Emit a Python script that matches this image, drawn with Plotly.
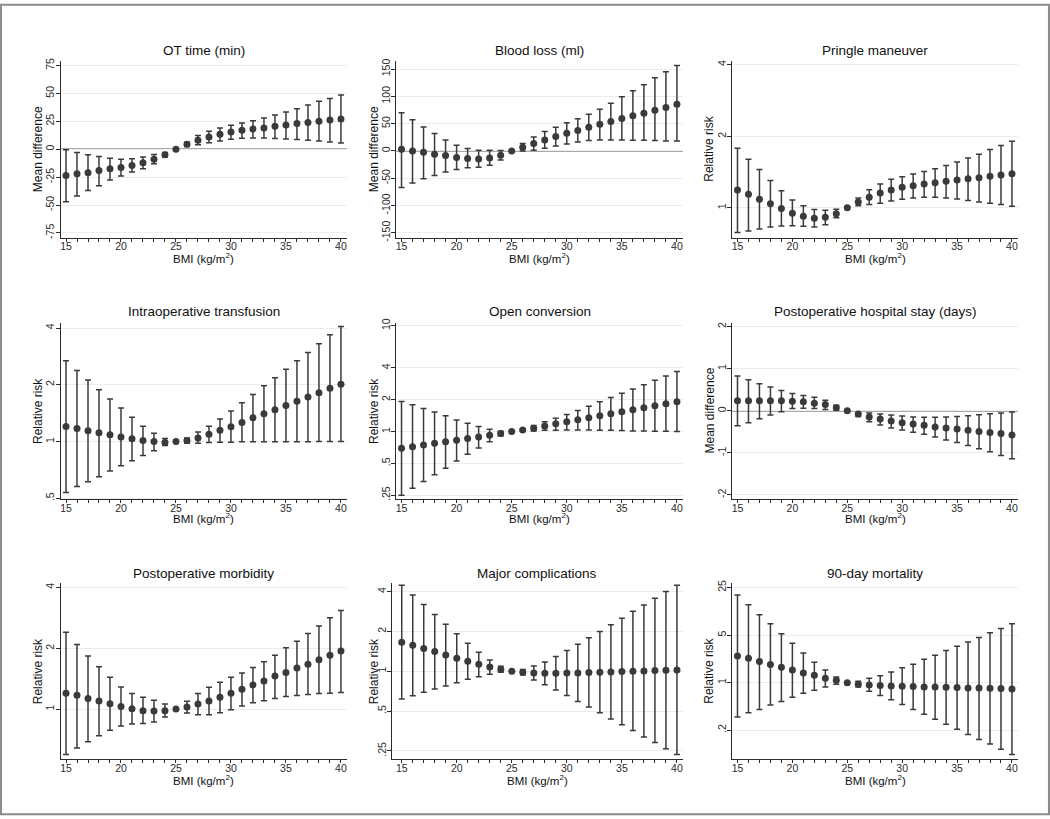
import math
import plotly.graph_objects as go

W, H = 1050, 819

BMI = [15, 16, 17, 18, 19, 20, 21, 22, 23, 24, 25, 26, 27, 28, 29, 30,
       31, 32, 33, 34, 35, 36, 37, 38, 39, 40]
XTICKS = [15, 20, 25, 30, 35, 40]
XTICKTEXT = ["15", "20", "25", "30", "35", "40"]

# 1. OT time (min) - mean difference
ot_est = [-23.5, -22, -21, -19, -17.5, -16.4, -14.6, -12.2, -9, -5, 0, 4.5, 8, 11, 13.4, 15.5,
          17, 18.2, 19, 20.5, 21.7, 23, 24, 25, 26.2, 27]
ot_lo = [-47, -42, -37, -32.7, -27.7, -24, -20.5, -17.6, -13, -7, 0, 2.4, 3.9, 5.7, 7.4, 9,
         9.8, 10, 10, 9.5, 9.2, 8.6, 8, 7.4, 6.5, 5.6]
ot_hi = [-0.5, -3, -5, -6.5, -8, -9, -8.6, -7, -4.8, -3, 0, 6.3, 12.2, 16, 19, 21.4,
         23.5, 25.6, 28, 30.6, 33.3, 36.3, 39.6, 43, 45.5, 48.5]

# 2. Blood loss (ml) - mean difference
bl_est = [3, 0, -2.5, -6, -8.5, -12, -14, -14.7, -12.8, -8, 0, 6.7, 13.5, 20, 26.3, 32.4,
          37.3, 43.4, 49, 53.8, 59.3, 64.2, 69, 74.6, 79.5, 85.6]
bl_lo = [-67, -59, -51, -45, -38.5, -34, -31, -30, -26.3, -16.5, 0, 0, 1.2, 5, 9.2, 12.8,
         16.5, 19, 20, 20, 20, 19.6, 19.6, 19, 18.3, 18.3]
bl_hi = [70, 57, 44, 32, 20, 10.4, 4.3, 1.2, 1.2, 0.6, 0, 13.5, 25.7, 35.5, 43.4, 51.4,
         58.7, 67.3, 76.5, 87.5, 99, 110, 121, 134, 145, 156.6]

# 3. Pringle maneuver - relative risk
pr_est = [1.19, 1.14, 1.087, 1.04, 0.994, 0.95, 0.923, 0.905, 0.914, 0.944, 1, 1.059, 1.108, 1.155, 1.19, 1.22,
          1.24, 1.26, 1.276, 1.293, 1.31, 1.326, 1.339, 1.357, 1.374, 1.39]
pr_lo = [0.788, 0.80, 0.814, 0.83, 0.838, 0.84, 0.836, 0.83, 0.849, 0.908, 1, 1.02, 1.033, 1.046, 1.07, 1.087,
         1.10, 1.108, 1.108, 1.10, 1.09, 1.073, 1.059, 1.046, 1.033, 1.016]
pr_hi = [1.78, 1.60, 1.45, 1.305, 1.18, 1.08, 1.02, 0.984, 0.978, 0.987, 1, 1.10, 1.193, 1.26, 1.318, 1.352,
         1.387, 1.423, 1.46, 1.508, 1.56, 1.62, 1.68, 1.76, 1.83, 1.905]

# 4. Intraoperative transfusion - relative risk
it_est = [1.20, 1.174, 1.14, 1.114, 1.088, 1.058, 1.033, 1.012, 1.0, 0.988, 1, 1.012, 1.045, 1.092, 1.146, 1.197,
          1.262, 1.335, 1.406, 1.475, 1.554, 1.637, 1.724, 1.817, 1.914, 2.015]
it_lo = [0.537, 0.577, 0.611, 0.651, 0.697, 0.743, 0.79, 0.842, 0.894, 0.953, 1, 0.98, 0.98, 0.988, 0.992, 0.992,
         0.996, 0.996, 0.996, 0.996, 0.996, 0.996, 0.996, 1.0, 1.0, 1.0]
it_hi = [2.68, 2.38, 2.12, 1.88, 1.68, 1.505, 1.345, 1.207, 1.105, 1.037, 1, 1.045, 1.123, 1.207, 1.318, 1.45,
         1.605, 1.774, 1.976, 2.18, 2.42, 2.68, 2.97, 3.30, 3.68, 4.08]

# 5. Open conversion - relative risk
oc_est = [0.694, 0.72, 0.747, 0.775, 0.803, 0.827, 0.858, 0.89, 0.923, 0.957, 1, 1.037, 1.076, 1.132, 1.183, 1.236,
          1.291, 1.349, 1.41, 1.472, 1.538, 1.607, 1.679, 1.754, 1.832, 1.914]
oc_lo = [0.25, 0.291, 0.337, 0.39, 0.451, 0.526, 0.609, 0.70, 0.803, 0.91, 1, 1.015, 1.015, 1.03, 1.03, 1.037,
         1.037, 1.037, 1.03, 1.03, 1.022, 1.015, 1.015, 1.007, 1.007, 1.0]
oc_hi = [1.93, 1.79, 1.65, 1.53, 1.41, 1.29, 1.2, 1.116, 1.05, 1.007, 1, 1.06, 1.14, 1.236, 1.339, 1.45,
         1.583, 1.74, 1.915, 2.1, 2.3, 2.53, 2.78, 3.05, 3.36, 3.69]

# 6. Postoperative hospital stay (days) - mean difference
hs_est = [0.236, 0.236, 0.236, 0.236, 0.236, 0.228, 0.213, 0.181, 0.15, 0.071, 0, -0.079, -0.15, -0.197, -0.244, -0.283,
          -0.315, -0.346, -0.386, -0.409, -0.433, -0.465, -0.496, -0.52, -0.543, -0.575]
hs_lo = [-0.354, -0.283, -0.189, -0.102, -0.024, 0.055, 0.063, 0.055, 0.031, 0.016, 0, -0.134, -0.26, -0.339, -0.41, -0.457,
         -0.512, -0.559, -0.622, -0.693, -0.756, -0.827, -0.906, -0.976, -1.063, -1.142]
hs_hi = [0.827, 0.74, 0.646, 0.567, 0.48, 0.41, 0.362, 0.323, 0.252, 0.134, 0, -0.047, -0.055, -0.079, -0.102, -0.126,
         -0.15, -0.157, -0.157, -0.15, -0.134, -0.118, -0.094, -0.071, -0.055, -0.031]

# 7. Postoperative morbidity - relative risk
pm_est = [1.198, 1.171, 1.128, 1.095, 1.062, 1.03, 1.004, 0.981, 0.978, 0.981, 1, 1.023, 1.058, 1.095, 1.145, 1.198,
          1.254, 1.317, 1.377, 1.457, 1.519, 1.595, 1.669, 1.753, 1.848, 1.94]
pm_lo = [0.595, 0.641, 0.689, 0.737, 0.786, 0.825, 0.844, 0.847, 0.863, 0.913, 1, 0.956, 0.938, 0.938, 0.96, 0.992,
         1.034, 1.074, 1.099, 1.128, 1.154, 1.167, 1.18, 1.193, 1.198, 1.207]
pm_hi = [2.40, 2.09, 1.834, 1.62, 1.436, 1.287, 1.193, 1.145, 1.107, 1.058, 1, 1.094, 1.193, 1.282, 1.357, 1.436,
         1.508, 1.607, 1.714, 1.848, 2.01, 2.17, 2.37, 2.58, 2.83, 3.08]

# 8. Major complications - relative risk
mc_est = [1.66, 1.575, 1.486, 1.41, 1.33, 1.255, 1.191, 1.13, 1.079, 1.03, 1, 0.983, 0.971, 0.966, 0.966, 0.971,
          0.971, 0.977, 0.983, 0.988, 0.994, 1.0, 1.006, 1.012, 1.018, 1.024]
mc_lo = [0.617, 0.654, 0.693, 0.735, 0.774, 0.82, 0.87, 0.911, 0.949, 0.983, 1, 0.938, 0.86, 0.792, 0.722, 0.657,
         0.592, 0.536, 0.486, 0.435, 0.394, 0.357, 0.319, 0.289, 0.26, 0.235]
mc_hi = [4.47, 3.77, 3.19, 2.69, 2.27, 1.92, 1.63, 1.394, 1.219, 1.091, 1, 1.03, 1.098, 1.177, 1.292, 1.435,
         1.603, 1.79, 2.0, 2.25, 2.52, 2.84, 3.17, 3.56, 4.0, 4.47]

# 9. 90-day mortality - relative risk
mo_est = [2.47, 2.29, 2.05, 1.85, 1.69, 1.53, 1.38, 1.28, 1.156, 1.08, 1, 0.946, 0.925, 0.904, 0.894, 0.884,
          0.874, 0.865, 0.865, 0.855, 0.846, 0.836, 0.836, 0.827, 0.818, 0.809]
mo_lo = [0.313, 0.362, 0.404, 0.468, 0.529, 0.611, 0.70, 0.773, 0.865, 0.946, 1, 0.865, 0.748, 0.647, 0.559, 0.478,
         0.404, 0.342, 0.29, 0.245, 0.207, 0.173, 0.146, 0.125, 0.105, 0.088]
mo_hi = [19.5, 14.0, 10.0, 7.32, 5.23, 3.78, 2.73, 2.0, 1.53, 1.21, 1, 1.046, 1.156, 1.265, 1.43, 1.65,
         1.87, 2.21, 2.53, 2.96, 3.42, 3.96, 4.62, 5.41, 6.25, 7.32]

TITLES = ["OT time (min)", "Blood loss (ml)", "Pringle maneuver",
          "Intraoperative transfusion", "Open conversion", "Postoperative hospital stay (days)",
          "Postoperative morbidity", "Major complications", "90-day mortality"]
YTITLES = ["Mean difference", "Mean difference", "Relative risk",
           "Relative risk", "Relative risk", "Mean difference",
           "Relative risk", "Relative risk", "Relative risk"]
YTICKS = [[-75, -50, -25, 0, 25, 50, 75],
          [-150, -100, -50, 0, 50, 100, 150],
          [1, 2, 4],
          [0.5, 1, 2, 4],
          [0.25, 0.5, 1, 2, 4, 10],
          [-2, -1, 0, 1, 2],
          [1, 2, 4],
          [0.25, 0.5, 1, 2, 4],
          [0.2, 1, 5, 25]]
YTICKTEXT = [["-75", "-50", "-25", "0", "25", "50", "75"],
             ["-150", "-100", "-50", "0", "50", "100", "150"],
             ["1", "2", "4"],
             [".5", "1", "2", "4"],
             [".25", ".5", "1", "2", "4", "10"],
             ["-2", "-1", "0", "1", "2"],
             ["1", "2", "4"],
             [".25", ".5", "1", "2", "4"],
             [".2", "1", "5", "25"]]
YLOG = [False, False, True, True, True, False, True, True, True]
REF = [0, 0, 1, 1, 1, 0, 1, 1, 1]
# axis ranges (linear units, or log10 units for log axes)
YRANGE = [[-79.3, 79.3], [-159, 165.2], [-0.1255, 0.619],
          [-0.307, 0.631], [-0.6415, 1.031], [-2.11, 2.10],
          [-0.2487, 0.623], [-0.665, 0.665], [-1.127, 1.461]]
XRANGE = [[14.5, 40.55]] * 7 + [[14.09, 40.55]] + [[14.5, 40.55]]

EST = [ot_est, bl_est, pr_est, it_est, oc_est, hs_est, pm_est, mc_est, mo_est]
LO = [ot_lo, bl_lo, pr_lo, it_lo, oc_lo, hs_lo, pm_lo, mc_lo, mo_lo]
HI = [ot_hi, bl_hi, pr_hi, it_hi, oc_hi, hs_hi, pm_hi, mc_hi, mo_hi]

# layout geometry in pixels
COLS = [(60.5, 347), (396, 683), (732, 1018)]
ROWS = [(57.3, 236), (321.7, 500.3), (585, 762.7)]
TITLE_Y = [47, 310.7, 575]
XTITLE_Y = [257, 519.5, 783.5]
YTITLE_X = [38, 374, 709.5]

FONT = "Liberation Sans, Arial, sans-serif"
INK = "#2b2b2b"
MARK = "#3a3a3a"

fig = go.Figure()
layout = dict(width=W, height=H, margin=dict(l=0, r=0, t=0, b=0),
              paper_bgcolor="white", plot_bgcolor="white", showlegend=False,
              font=dict(family=FONT, color=INK, size=10))
annotations = []
shapes = []

for i in range(9):
    r, c = divmod(i, 3)
    n = i + 1
    sfx = "" if n == 1 else str(n)
    x0p, x1p = COLS[c]
    if i == 7:
        x0p = 391.7
    y0p, y1p = ROWS[r]
    est, lo, hi = EST[i], LO[i], HI[i]
    up = [h - e for h, e in zip(hi, est)]
    dn = [e - l for e, l in zip(est, lo)]
    fig.add_trace(go.Scatter(
        x=BMI, y=est, mode="markers", xaxis="x" + sfx, yaxis="y" + sfx,
        marker=dict(size=7, color=MARK, line=dict(width=0)),
        error_y=dict(type="data", symmetric=False, array=up, arrayminus=dn,
                     color=MARK, thickness=1.5, width=3),
        hoverinfo="x+y"))
    layout["xaxis" + sfx] = dict(
        domain=[x0p / W, x1p / W], range=XRANGE[i], anchor="y" + sfx,
        tickvals=XTICKS, ticktext=XTICKTEXT, ticks="outside", ticklen=3,
        tickcolor=INK, showline=True, linecolor=INK, linewidth=1,
        ticklabelstandoff=-4,
        minor=dict(dtick=1, tick0=15, ticks="outside", ticklen=3, tickcolor=INK, showgrid=False),
        showgrid=False, zeroline=False, tickfont=dict(size=10.5, color=INK))
    layout["yaxis" + sfx] = dict(
        domain=[1 - y1p / H, 1 - y0p / H], range=YRANGE[i], anchor="x" + sfx,
        type="log" if YLOG[i] else "linear",
        tickvals=YTICKS[i], ticktext=YTICKTEXT[i], tickangle=-90,
        ticks="outside", ticklen=4, tickcolor=INK, showline=True,
        ticklabelstandoff=-3,
        linecolor=INK, linewidth=1, showgrid=True, gridcolor="#ececec",
        gridwidth=1, zeroline=False, tickfont=dict(size=10.5, color=INK))
    refy = math.log10(REF[i]) if YLOG[i] else REF[i]
    shapes.append(dict(type="line", xref="x" + sfx + " domain", yref="y" + sfx,
                       x0=0, x1=1, y0=refy, y1=refy, layer="below",
                       line=dict(color="#555555", width=1.2)))
    xc = (x0p + x1p) / 2 / W
    annotations.append(dict(text=TITLES[i], x=xc, y=1 - TITLE_Y[r] / H,
                            xref="paper", yref="paper", showarrow=False,
                            xanchor="center", yanchor="middle",
                            font=dict(size=13.5, color="#111")))
    annotations.append(dict(text="BMI (kg/m<sup>2</sup>)", x=xc, y=1 - XTITLE_Y[r] / H,
                            xref="paper", yref="paper", showarrow=False,
                            xanchor="center", yanchor="middle",
                            font=dict(size=11.5, color="#111")))
    annotations.append(dict(text=YTITLES[i], x=YTITLE_X[c] / W,
                            y=1 - (y0p + y1p) / 2 / H, textangle=-90,
                            xref="paper", yref="paper", showarrow=False,
                            xanchor="center", yanchor="middle",
                            font=dict(size=12, color="#111")))

# outer frame
shapes.append(dict(type="rect", xref="paper", yref="paper", x0=0.001, x1=0.999,
                   y0=0.001, y1=0.999, line=dict(color="#8a8a8a", width=2),
                   layer="above"))

layout["annotations"] = annotations
layout["shapes"] = shapes
fig.update_layout(**layout)
fig.write_html("out.html", config={"displayModeBar": False},
               post_script="document.body.style.margin='0';document.body.style.overflow='hidden';")
